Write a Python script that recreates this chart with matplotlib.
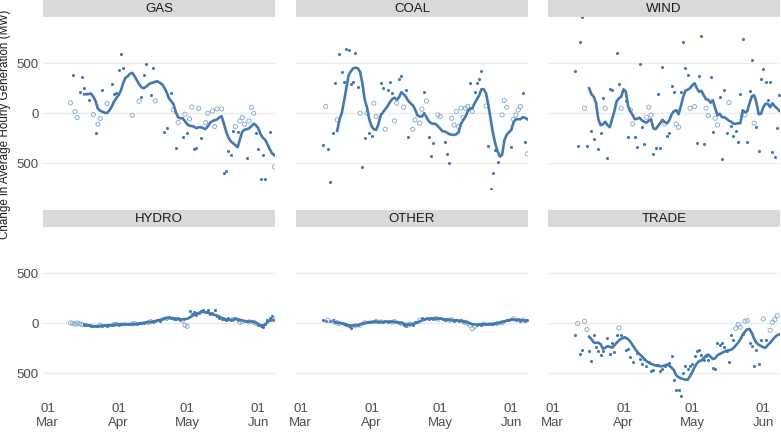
import matplotlib
matplotlib.use('Agg')
import matplotlib.pyplot as plt
import matplotlib.dates as mdates
import numpy as np
import pandas as pd

plt.rcParams['font.family'] = ['Liberation Sans', 'DejaVu Sans']

# day offsets are counted from 1 March
base = pd.Timestamp('2020-03-01')

# ---- GAS ----
gas_line_start = 16
gas_line = [190, 190, 192, 198, 165, 120, 45, 25, 15, 5, 2, 28, 65, 115, 150, 180, 225, 300, 355, 370,
            395, 405, 370, 330, 290, 260, 250, 265, 285, 300, 305, 315, 320, 305, 290, 255, 210, 150, 120, 90,
            10, -40, -50, -50, -80, -110, -125, -128, -135, -150, -140, -140, -150, -158, -130, -95, -78, -70, -62, -42,
            -30, -105, -185, -245, -280, -300, -320, -340, -260, -185, -165, -160, -150, -130, -105, -120, -150, -210, -245, -265,
            -310, -360, -400, -420]
gas_days = [10, 11, 12, 13, 14, 15, 16, 18, 20, 21, 22, 23, 24, 26, 28, 29, 30, 31, 32, 33,
            37, 40, 41, 42, 43, 45, 46, 47, 51, 52, 54, 55, 56, 57, 59, 60, 61, 62, 63, 64, 65, 66, 67,
            69, 70, 72, 73, 74, 76, 77, 78, 79, 80, 81, 82, 83,
            84, 85, 86, 87, 88, 89, 90, 91, 92, 93, 94, 95, 97, 99]
gas_vals = [103, 380, 17, -43, 213, 363, 253, 130, -13, -200, -110, -53, 230, 97, 290, 197, 200, 437, 590, 453,
            -20, 120, 163, 380, 490, 180, 457, 123, -183, -143, 207, 33, -350, -93, -233, -10, -200, -57, 63, -357, -350, 50, -250,
            -93, 0, 23, -133, 43, 43, -600, -573, -373, -417, -173, -133, -183,
            -77, -43, -110, -443, -77, 57, 0, -200, -360, -657, -420, -657, -190, -537]
gas_open = [10, 12, 13, 20, 22, 23, 26, 37, 40, 47, 55, 57, 60, 62, 63, 66, 69, 70, 72, 73, 74, 76,
            82, 84, 85, 86, 88, 89, 90, 99]

# ---- COAL ----
coal_line_start = 16
coal_line = [-177, -67, 0, 120, 250, 380, 420, 450, 455, 450, 415, 300, 140, 60, -60, -130, -160, -167, -110, -20,
             10, 40, 70, 110, 140, 155, 135, 160, 210, 190, 165, 125, 100, 80, 40, -20, -33, -33, 0, -40,
             -80, -100, -105, -107, -130, -155, -180, -183, -195, -210, -215, -217, -210, -190, -110, -70, -35, 20, 45, 50,
             100, 140, 180, 240, 240, 200, 80, -60, -200, -300, -380, -433, -417, -270, -215, -190, -167, -90, -60, -60,
             -60, -40, -45, -60]
coal_days = [10, 11, 12, 13, 14, 15, 16, 17, 18, 19, 20, 21, 22, 23, 24, 25, 26, 27, 28, 29, 30, 31, 32, 33,
             35, 36, 37, 38, 39, 40, 41, 42, 43, 44, 45, 46, 47, 49, 50, 52, 53, 54, 55, 56, 57, 58, 60, 61,
             63, 64, 65, 66, 67, 68, 69, 70, 71, 72, 73, 74, 75, 76, 77, 78, 79, 81, 82, 83, 84, 85, 86,
             88, 89, 90, 92, 93, 94, 95, 96, 97, 98, 99]
coal_vals = [-317, 67, -360, -690, -200, 300, -67, 593, 417, 317, 643, 633, 290, 317, 607, 267, 0, -533, -250, 0, -200, -223, 100, -33,
             307, 250, -160, 233, 317, 207, -77, 100, 343, 373, 60, 233, -233, -160, -67, -100, 40, 213, 123, -240, -423, -300, -17, -33,
             -283, -410, -493, -50, -117, 17, -133, 50, -43, 50, 67, 307, 17, 217, 307, 340, 423, 73, -327, -757, -593, -367, -490,
             -17, 127, 60, -333, -60, -17, 33, 67, 200, -283, -407]
coal_open = [11, 16, 26, 29, 32, 33, 37, 41, 42, 45, 49, 50, 52, 53, 55, 60, 61, 66, 67, 68, 69, 70, 71, 72, 73, 75,
             81, 88, 89, 90, 93, 94, 95, 96, 99]

# ---- WIND ----
wind_line_start = 16
wind_line = [250, 190, 167, 100, -60, -120, -110, -85, -120, -140, -60, 20, 120, 150, 165, 240, 215, 70, 20, -20,
             -60, -55, -45, -70, -85, -95, -75, -60, -150, -160, -130, -100, -65, -90, -100, -70, -10, 20, 30, -10,
             70, 160, 225, 235, 250, 280, 300, 250, 215, 225, 180, 140, 135, 105, 130, 50, -20, -5, -40, -40,
             -55, -75, -85, -105, -105, -100, -100, 30, 10, 20, 100, 170, 180, 110, -10, -5, 60, 95, 95, 60,
             100, 70, 50, 25]
wind_days = [10, 11, 12, 13, 14, 15, 17, 18, 20, 21, 22, 23, 24, 25, 26, 28, 29, 30,
             32, 33, 34, 35, 36, 37, 38, 39, 40, 41, 42, 43, 44, 45, 46, 47, 48, 49, 50, 51, 52, 53, 54, 55, 56, 57, 58, 59, 60,
             62, 63, 64, 65, 66, 67, 68, 69, 70, 71, 72, 73, 74, 75, 76, 77, 78, 79, 80, 81, 82, 83, 84, 85, 86, 87, 88, 89,
             90, 91, 92, 93, 94, 95, 96, 97, 98, 99]
wind_vals = [423, -327, 710, 967, 50, -323, -177, -260, -360, -200, 157, 50, -450, 240, 233, 607, 293, 50,
             127, -233, 33, -107, -233, -340, 490, -140, -310, -40, 60, -17, -410, -350, 193, -350, 467, -107, -227, -193, 273, 210,
             -107, -140, 217, 717, 457, 380, 50,
             67, -300, 373, 777, -310, 50, -23, 367, -183, -50, -117, 160, -457, 233, -200, 107, -127, -227, -177, -290, 193, 747,
             -17, -283, 223, 533, -100, -140, -377, 340, 443, 317, 133, 313, -383, -433, -150, 183]
wind_open = [14, 23, 30, 34, 35, 41, 42, 43, 49, 54, 55, 60, 62, 67, 68, 71, 72, 77, 84, 88]

# ---- HYDRO ----
hydro_line_start = 16
hydro_line = [-12, -16, -20, -25, -28, -30, -29, -26, -23, -22, -21, -19, -18, -16, -14, -11, -9, -7, -8, -9,
              -10, -10, -8, -5, -2, 1, 4, 8, 11, 14, 17, 22, 28, 34, 40, 46, 50, 52, 53, 50,
              47, 42, 38, 38, 41, 45, 57, 70, 84, 96, 104, 112, 113, 111, 105, 98, 90, 83, 76, 65,
              54, 46, 38, 34, 31, 36, 42, 40, 34, 28, 23, 18, 18, 20, 14, 5, -8, -20, -22, -12,
              12, 25, 30, 32]
hydro_days = list(range(10, 100))
hydro_vals = [3, 0, -10, 2, -6, -14, -18, -16, -22, -28,
              -32, -26, -30, -20, -24, -18, -26, -15, -20, -12,
              -10, -14, -6, -4, -10, -12, -6, -8, -4, -6,
              2, 0, 6, 10, 8, 16, 14, 26, 30, 24,
              44, 52, 48, 58, 50, 46, 40, 48, 36, 30,
              -20, -30, 120, 95, 110, 85, 103, 120, 128, 108,
              137, 95, 103, 130, 70, 48, 44, 40, 36, 48,
              30, 40, 50, 36, 10, 16, 26, 22, 14, 24,
              10, -4, -14, -30, -36, -10, 30, 50, 75, 40]
hydro_open = [10, 11, 12, 13, 14, 15, 23, 29, 30, 37, 38, 44, 45, 52, 59, 60, 61, 81, 84, 85, 88, 90, 91, 99]

# ---- OTHER ----
other_line_start = 15
other_line = [10, 7, 3, -1, -5, -12, -20, -23, -23, -22, -18, -13, -5, 2, 8, 12, 14, 16, 17, 15,
              14, 13, 15, 16, 17, 15, 14, 13, 8, 3, -4, -12, -13, -13, -8, -1, 6, 17, 28, 36,
              43, 45, 46, 47, 47, 47, 46, 43, 39, 36, 34, 31, 29, 28, 27, 25, 20, 15, 8, -2,
              -8, -12, -13, -12, -11, -10, -9, -8, -7, -5, -4, 0, 5, 11, 19, 27, 31, 35, 37, 35,
              32, 30, 29, 28, 27]
other_days = list(range(10, 100))
other_vals = [37, 27, 30, 27, 37, 14, 4, -2, 6, -10,
              -16, -30, -47, -20, -26, -14, -20, -2, 4, 10,
              16, 12, 20, 18, 12, 14, 10, 18, 14, 20,
              10, 16, 10, 4, -2, -20, -30, -16, -8, -14,
              8, 10, 30, 53, 40, 50, 38, 52, 44, 50,
              40, 48, 46, 34, 40, 30, 36, 26, 30, 22,
              28, 16, 10, 0, -20, -53, -30, -16, -10, -14,
              -8, -12, -4, -10, -6, 0, -2, 8, 6, 20,
              36, 30, 40, 44, 30, 38, 26, 32, 24, 30]
other_open = [12, 15, 16, 17, 24, 26, 28, 33, 35, 40, 41, 44, 47, 48, 52, 59, 60, 65, 66,
              72, 73, 74, 75, 76, 80, 86, 88, 93, 97]

# ---- TRADE ----
trade_line_start = 16
trade_line = [-135, -160, -192, -196, -194, -210, -255, -245, -230, -235, -245, -222, -195, -172, -155, -147, -145, -160, -185, -220,
              -255, -285, -310, -330, -355, -378, -395, -407, -415, -421, -426, -430, -430, -422, -413, -425, -445, -470, -520, -540,
              -550, -558, -565, -565, -530, -490, -440, -402, -378, -374, -350, -325, -313, -335, -358, -350, -320, -308, -296, -285,
              -274, -270, -265, -248, -222, -196, -160, -115, -85, -60, -58, -97, -155, -195, -215, -228, -240, -245, -218, -195,
              -168, -140, -120, -113]
trade_days = [10, 11, 12, 13, 14, 15, 16, 17, 18, 19, 20, 21, 22,
              24, 25, 26, 27, 28, 29, 30, 31, 32, 33, 34, 35,
              37, 38, 39, 40, 41, 42, 43, 44, 45, 46, 47, 48, 49,
              51, 52, 53, 54, 55, 56, 57, 58, 59, 60, 61, 62, 63, 64, 65, 66, 67, 68,
              70, 71, 72, 73, 74, 75, 76, 77, 78, 79, 80, 81, 82, 83, 84, 85, 86, 87, 88, 89, 90, 91, 92, 93,
              95, 96, 97, 98]
trade_vals = [-120, -3, -303, -263, 20, -63, -273, -380, -113, -240, -273, -313, -280,
              -147, -303, -197, -290, -120, -47, -113, -137, -263, -257, -337, -390,
              -297, -357, -403, -357, -430, -390, -480, -470, -413, -413, -480, -457, -430,
              -397, -330, -570, -663, -663, -723, -497, -423, -457, -430, -407, -330, -280, -263, -320, -370, -330, -363,
              -447, -457, -197, -213, -197, -237, -280, -390, -113, -163, -53, -13, -40, -107, 20, 27, -197, -230, -423, -270,
              -403, -163, 43, -163,
              -70, 10, 37, 77]
trade_open = [11, 14, 15, 29, 80, 81, 82, 84, 85, 92, 95, 96, 97, 98]

facets = [
    ('GAS', gas_line_start, gas_line, gas_days, gas_vals, gas_open),
    ('COAL', coal_line_start, coal_line, coal_days, coal_vals, coal_open),
    ('WIND', wind_line_start, wind_line, wind_days, wind_vals, wind_open),
    ('HYDRO', hydro_line_start, hydro_line, hydro_days, hydro_vals, hydro_open),
    ('OTHER', other_line_start, other_line, other_days, other_vals, other_open),
    ('TRADE', trade_line_start, trade_line, trade_days, trade_vals, trade_open),
]

LINE = '#4479b0'
OPEN = '#7fa6cc'
W, H = 781, 432

fig = plt.figure(figsize=(W / 100, H / 100), dpi=100)
cols = [43, 296, 548]
pw = 232
rows = [(17, 189), (227, 399)]

def to_dates(days):
    return base + pd.to_timedelta(np.asarray(days), unit='D')

for k, (name, lstart, line, pdays, pvals, popen) in enumerate(facets):
    r, c = divmod(k, 3)
    top, bot = rows[r]
    ax = fig.add_axes([cols[c] / W, 1 - bot / H, pw / W, (bot - top) / H])

    pdays = np.asarray(pdays)
    pvals = np.asarray(pvals)
    is_open = np.isin(pdays, popen)
    ax.scatter(to_dates(pdays[~is_open]), pvals[~is_open], s=5, color=LINE, lw=0, zorder=2)
    ax.scatter(to_dates(pdays[is_open]), pvals[is_open], s=9, facecolors='none',
               edgecolors=OPEN, lw=0.6, zorder=2)
    ldays = np.arange(lstart, lstart + len(line))
    ax.plot(to_dates(ldays), line, color=LINE, lw=1.9, solid_joinstyle='round', zorder=3)

    ax.set_xlim(base - pd.Timedelta(days=1.97), base + pd.Timedelta(days=99.3))
    ax.set_ylim(-758, 963)
    ax.set_yticks([-500, 0, 500])
    ax.xaxis.set_major_locator(mdates.MonthLocator())
    ax.xaxis.set_major_formatter(mdates.DateFormatter('%d\n%b'))
    ax.grid(axis='y', color='#ebebeb', lw=1.0)
    ax.set_axisbelow(True)
    ax.tick_params(length=0, labelsize=9.5, colors='#4d4d4d', pad=3)
    for s in ax.spines.values():
        s.set_visible(False)
    if c == 0:
        ax.set_yticklabels(['500', '0', '500'])
    else:
        ax.set_yticklabels([])
    if r == 0:
        ax.set_xticklabels([])

    # facet strip
    sax = fig.add_axes([cols[c] / W, 1 - (top - 0.5) / H, pw / W, 17 / H])
    sax.set_facecolor('#d9d9d9')
    sax.set_xticks([])
    sax.set_yticks([])
    for s in sax.spines.values():
        s.set_visible(False)
    sax.text(0.5, 0.45, name, ha='center', va='center', fontsize=9.5, color='#1a1a1a',
             transform=sax.transAxes)

fig.text(5 / W, 1 - 124 / H, 'Change in Average Hourly Generation (MW)', rotation=90,
         ha='center', va='center', fontsize=8.4, color='#1a1a1a')

fig.savefig('out.png', dpi=100)
